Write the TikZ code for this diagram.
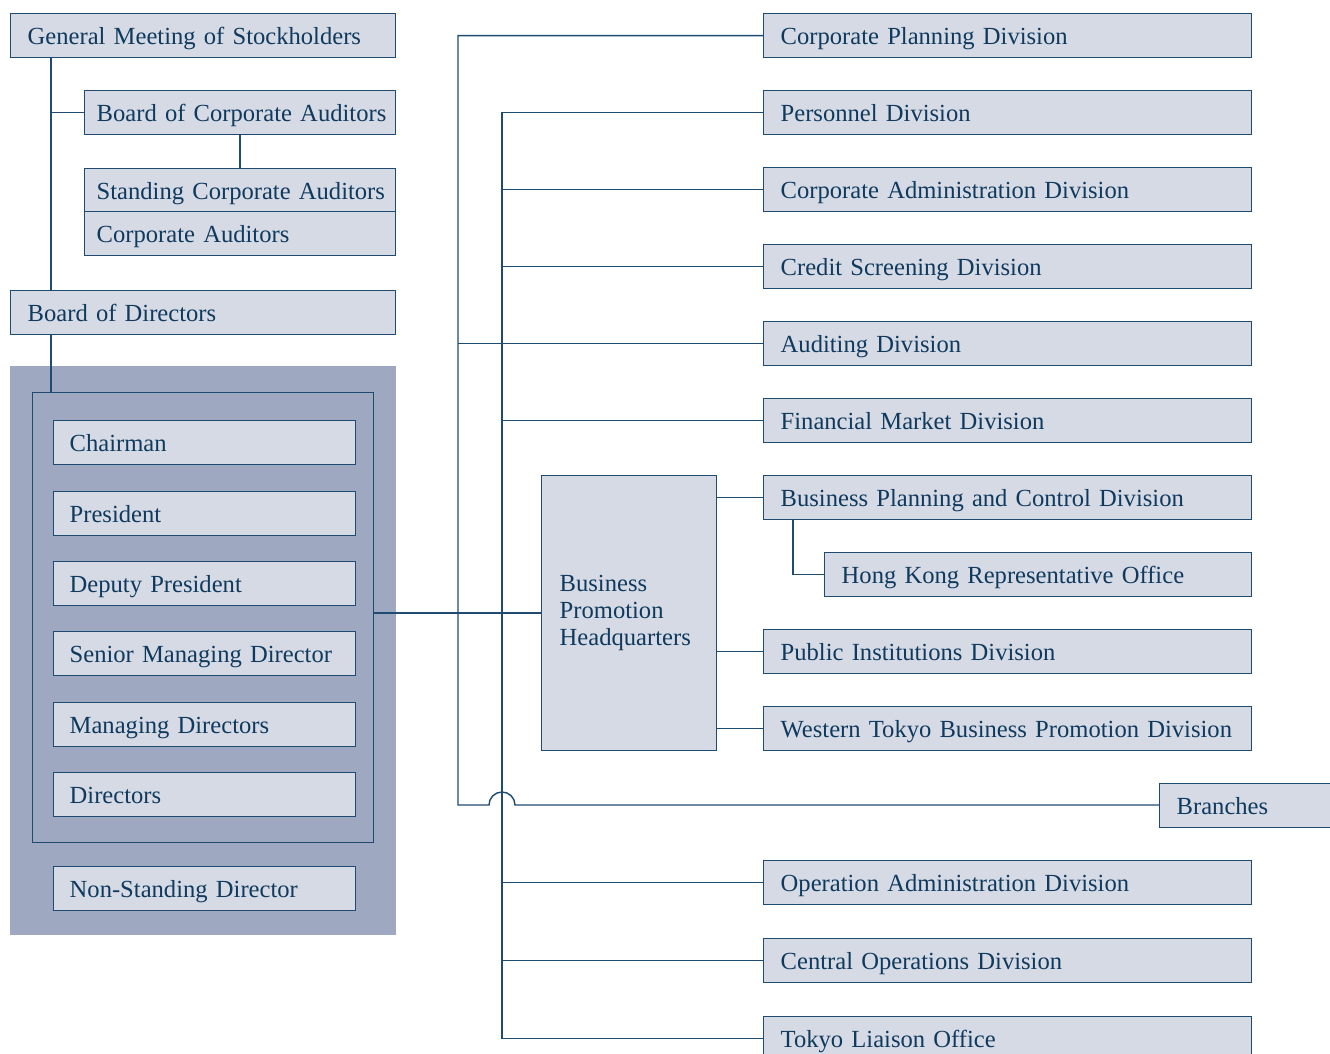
\documentclass[tikz,border=0pt]{standalone}
\usepackage{fontspec}
\setmainfont{Liberation Serif}
\usepackage{xcolor}
\usetikzlibrary{calc, positioning}
\definecolor{boxfill}{HTML}{D6DAE5}
\definecolor{lineblue}{HTML}{1F4B70}
\definecolor{textblue}{HTML}{0F3A5E}
\definecolor{panelfill}{HTML}{9EA8C1}
\tikzset{
    plate/.style={rectangle, draw=lineblue, line width=0.8pt, fill=boxfill, text=textblue, anchor=north west, align=left, inner xsep=0.34cm, inner ysep=0pt, font=\fontsize{14}{15.4}\selectfont},
    unit/.style={plate, minimum height=0.88cm, text height=12pt, text depth=1.6pt},
    topbox/.style={unit, text width=7.02cm},
    auditbox/.style={unit, inner xsep=0.24cm, text width=5.74cm},
    execbox/.style={unit, inner xsep=0.32cm, text width=5.40cm},
    divbox/.style={unit, text width=9.08cm},
    link/.style={draw=lineblue, line width=0.8pt}
}

\begin{document}
\begin{tikzpicture}[x=0.02cm, y=-0.02cm]
    \useasboundingbox (0,0) rectangle (1330,1054);

    % Directors panel
    \fill[panelfill] (10,366) rectangle (396,935);
    \node[draw=lineblue, line width=0.8pt, anchor=north west, minimum width=6.82cm, minimum height=9cm, inner sep=0pt] (frame) at (32,392) {};

    % Left column
    \node[topbox] (gms) at (10,13) {General Meeting of Stockholders};
    \node[auditbox] (bca) at (84,90) {\mbox{Board of Corporate Auditors}};
    \node[auditbox] (sca) at (84,168) {\mbox{Standing Corporate Auditors}};
    \node[auditbox] (cau) at (84,211) {Corporate Auditors};
    \node[topbox] (bod) at (10,290) {Board of Directors};
    \foreach \name/\ypos/\txt in {chair/420/Chairman, pres/491/President, dep/561/Deputy President, smd/631/Senior Managing Director, mds/702/Managing Directors, dirs/772/Directors, nsd/866/Non-Standing Director}
        \node[execbox] (\name) at (53,\ypos) {\txt};

    % Divisions
    \foreach \name/\ypos/\txt in {cpd/13/Corporate Planning Division, per/90/Personnel Division, cad/167/Corporate Administration Division, csd/244/Credit Screening Division, aud/321/Auditing Division, fmd/398/Financial Market Division, bpc/475/Business Planning and Control Division, pid/629/Public Institutions Division, wtd/706/Western Tokyo Business Promotion Division, oad/860/Operation Administration Division, cod/938/Central Operations Division, tlo/1016/Tokyo Liaison Office}
        \node[divbox] (\name) at (763,\ypos) {\txt};
    \node[unit, text width=7.86cm] (hko) at (824,552) {Hong Kong Representative Office};
    \node[unit, text width=3.32cm] (brn) at (1159,783) {Branches};
    \node[plate, inner xsep=0.36cm, text width=2.78cm, minimum height=5.5cm] (bph) at (541,475) {Business\\Promotion\\Headquarters};

    % Trunk points
    \coordinate (stem) at ($(gms.south west)+(41,0)$);
    \coordinate (abot) at (458,805);
    \coordinate (hop) at (502,805);

    % Left connectors
    \draw[link] (stem) -- (stem |- bod.north);
    \draw[link] (bca.west) -- (bca.west -| stem);
    \draw[link] (bca.south) -- (sca.north);
    \draw[link] (stem |- bod.south) -- (stem |- frame.north);
    \draw[link] (bph.west) -- (bph.west -| frame.east);

    % Outer trunk with hop
    \draw[link] (cpd.west) -| (abot) -- ($(hop)+(-13,0)$) arc[start angle=180, end angle=360, radius=13] -- (brn.west |- hop);
    \draw[link] (aud.west) -- (aud.west -| abot);

    % Inner trunk
    \draw[link] (per.west) -| (hop |- tlo.west) -- (tlo.west);
    \foreach \name in {cad, csd, fmd, oad, cod}
        \draw[link] (\name.west) -- (\name.west -| hop);

    % Headquarters branches
    \foreach \name in {bpc, pid, wtd}
        \draw[link] (\name.west) -- (\name.west -| bph.east);
    \draw[link] ($(bpc.south west)+(30,0)$) |- (hko.west);
\end{tikzpicture}
\end{document}
